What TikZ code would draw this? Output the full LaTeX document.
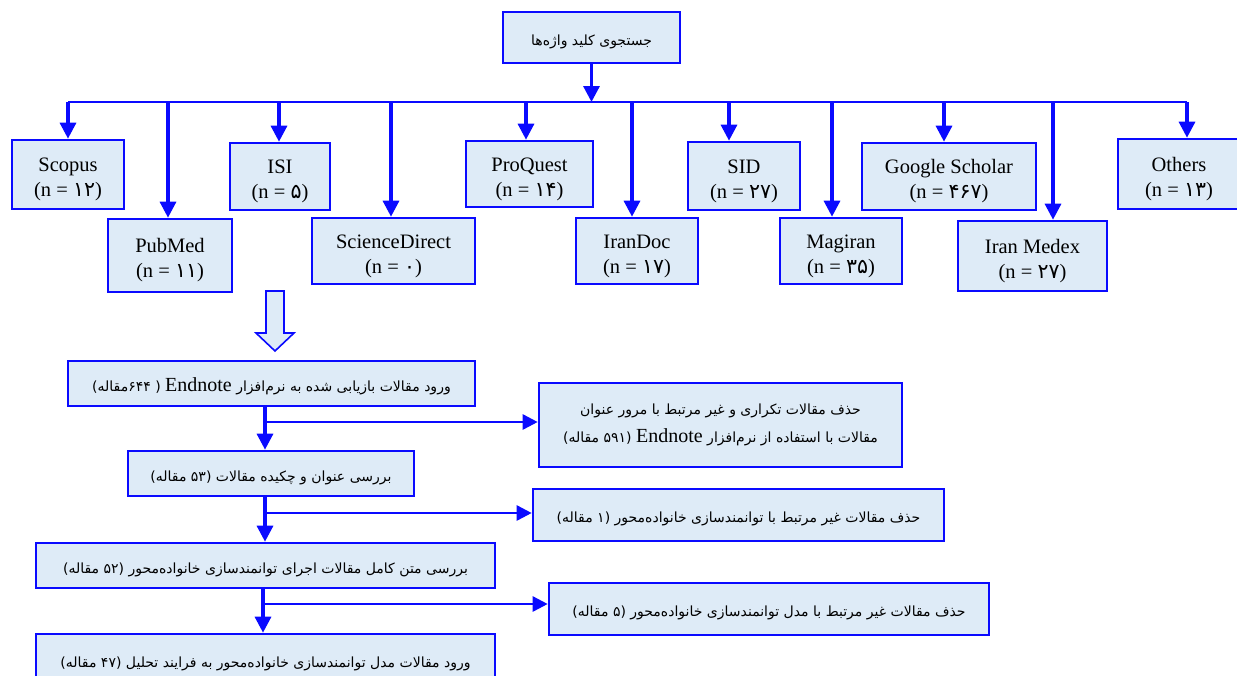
\documentclass[tikz,border=0pt]{standalone}
\usepackage{fontspec}
\setmainfont{Liberation Serif}
\newfontfamily\fa[Script=Arabic]{DejaVu Sans}
\TeXXeTstate=1
\usetikzlibrary{arrows.meta}
\definecolor{bl}{RGB}{10,10,255}
\definecolor{fc}{RGB}{222,235,247}
\newcommand\nval[1]{(n = {\fa #1})}
\newcommand\fat[1]{{\fa\fontsize{14}{17}\selectfont\beginR #1\endR}}
\newcommand\EN{\beginL{\rmfamily\fontsize{20}{22}\selectfont Endnote}\endL}
\tikzset{
 box/.style={draw=bl, fill=fc, line width=2.6pt, align=center, inner sep=0pt,
   font=\fontsize{20.5}{25}\selectfont, execute at begin node=\rule{0pt}{49pt}},
 pbox/.style={draw=bl, fill=fc, line width=2.6pt, align=center, inner sep=0pt,
   execute at begin node=\rule{0pt}{19pt}},
 arr/.style={draw=bl, line width=3.2pt, -{Triangle[width=16pt,length=16pt]}},
 harr/.style={draw=bl, line width=2.6pt, -{Triangle[width=15pt,length=15pt]}},
 bus/.style={draw=bl, line width=2.2pt},
}
\begin{document}
\begin{tikzpicture}[x=1pt,y=-1pt]
\useasboundingbox (0,0) rectangle (1237,675);
% top
\node[pbox, minimum width=177pt, minimum height=51pt] (top) at (591.5,37.5) {\fat{جستجوی کلید واژه^^^^200cها}};
% sources
\node[box, minimum width=112pt, minimum height=69pt] (scopus) at (68,174.5) {Scopus\\\nval{۱۲}};
\node[box, minimum width=124pt, minimum height=73pt] (pubmed) at (170,255.5) {PubMed\\\nval{۱۱}};
\node[box, minimum width=100pt, minimum height=67pt] (isi) at (280,176.5) {ISI\\\nval{۵}};
\node[box, minimum width=163pt, minimum height=66pt] (sd) at (393.5,251) {ScienceDirect\\\nval{۰}};
\node[box, minimum width=127pt, minimum height=66pt] (pq) at (529.5,174) {ProQuest\\\nval{۱۴}};
\node[box, minimum width=122pt, minimum height=66pt] (irandoc) at (637,251) {IranDoc\\\nval{۱۷}};
\node[box, minimum width=112pt, minimum height=68pt] (sid) at (744,176) {SID\\\nval{۲۷}};
\node[box, minimum width=122pt, minimum height=66pt] (magiran) at (841,251) {Magiran\\\nval{۳۵}};
\node[box, minimum width=174pt, minimum height=67pt] (gs) at (949,176.5) {Google Scholar\\\nval{۴۶۷}};
\node[box, minimum width=149pt, minimum height=70pt] (medex) at (1032.5,256) {Iran Medex\\\nval{۲۷}};
\node[box, minimum width=122pt, minimum height=70pt] (others) at (1179,174) {Others\\\nval{۱۳}};
% bus
\coordinate (bt) at (591.5,102);
\coordinate (b1) at (68,102);
\coordinate (b2) at (168,102);
\coordinate (b3) at (279,102);
\coordinate (b4) at (391,102);
\coordinate (b5) at (526,102);
\coordinate (b6) at (632,102);
\coordinate (b7) at (729,102);
\coordinate (b8) at (832,102);
\coordinate (b9) at (944,102);
\coordinate (b10) at (1053,102);
\coordinate (b11) at (1187,102);
\draw[arr] (top.south) -- (bt);
\draw[bus] (b1) -- (b11);
\draw[arr] (b1) -- (b1 |- scopus.north);
\draw[arr] (b2) -- (b2 |- pubmed.north);
\draw[arr] (b3) -- (b3 |- isi.north);
\draw[arr] (b4) -- (b4 |- sd.north);
\draw[arr] (b5) -- (b5 |- pq.north);
\draw[arr] (b6) -- (b6 |- irandoc.north);
\draw[arr] (b7) -- (b7 |- sid.north);
\draw[arr] (b8) -- (b8 |- magiran.north);
\draw[arr] (b9) -- (b9 |- gs.north);
\draw[arr] (b10) -- (b10 |- medex.north);
\draw[arr] (b11) -- (b11 |- others.north);
% hollow arrow
\draw[draw=bl, fill=fc, line width=1.6pt, line join=miter]
  (266,291) -- (284,291) -- (284,333) -- (294,333) -- (275,351) -- (256,333) -- (266,333) -- cycle;
% process boxes
\node[pbox, minimum width=407pt, minimum height=45pt] (e1) at (271.5,383.5)
  {\fat{ورود مقالات بازیابی شده به نرم^^^^200cافزار \EN{} ( ۶۴۴مقاله)}};
\node[pbox, minimum width=363pt, minimum height=84pt] (d1) at (720.5,425)
  {\fat{حذف مقالات تکراری و غیر مرتبط با مرور عنوان}\\[9pt]\fat{مقالات با استفاده از نرم^^^^200cافزار \EN{} (۵۹۱ مقاله)}};
\node[pbox, minimum width=286pt, minimum height=45pt] (e2) at (271,473.5)
  {\fat{بررسی عنوان و چکیده مقالات (۵۳ مقاله)}};
\node[pbox, minimum width=411pt, minimum height=52pt] (d2) at (738.5,515)
  {\fat{حذف مقالات غیر مرتبط با توانمندسازی خانواده^^^^200cمحور (۱ مقاله)}};
\node[pbox, minimum width=459pt, minimum height=45pt] (e3) at (265.5,565.5)
  {\fat{بررسی متن کامل مقالات اجرای توانمندسازی خانواده^^^^200cمحور (۵۲ مقاله)}};
\node[pbox, minimum width=440pt, minimum height=52pt] (d3) at (769,609)
  {\fat{حذف مقالات غیر مرتبط با مدل توانمندسازی خانواده^^^^200cمحور (۵ مقاله)}};
\node[pbox, minimum width=459pt, minimum height=52pt] (e4) at (265.5,660)
  {\fat{ورود مقالات مدل توانمندسازی خانواده^^^^200cمحور به فرایند تحلیل (۴۷ مقاله)}};
% connectors
\coordinate (j1) at (265,422);
\coordinate (j2) at (265,513);
\coordinate (j3) at (263,604);
\draw[arr] (e1.south -| j1) -- (e2.north -| j1);
\draw[harr] (j1) -- (j1 -| d1.west);
\draw[arr] (e2.south -| j2) -- (e3.north -| j2);
\draw[harr] (j2) -- (j2 -| d2.west);
\draw[arr] (e3.south -| j3) -- (e4.north -| j3);
\draw[harr] (j3) -- (j3 -| d3.west);
\end{tikzpicture}
\end{document}
